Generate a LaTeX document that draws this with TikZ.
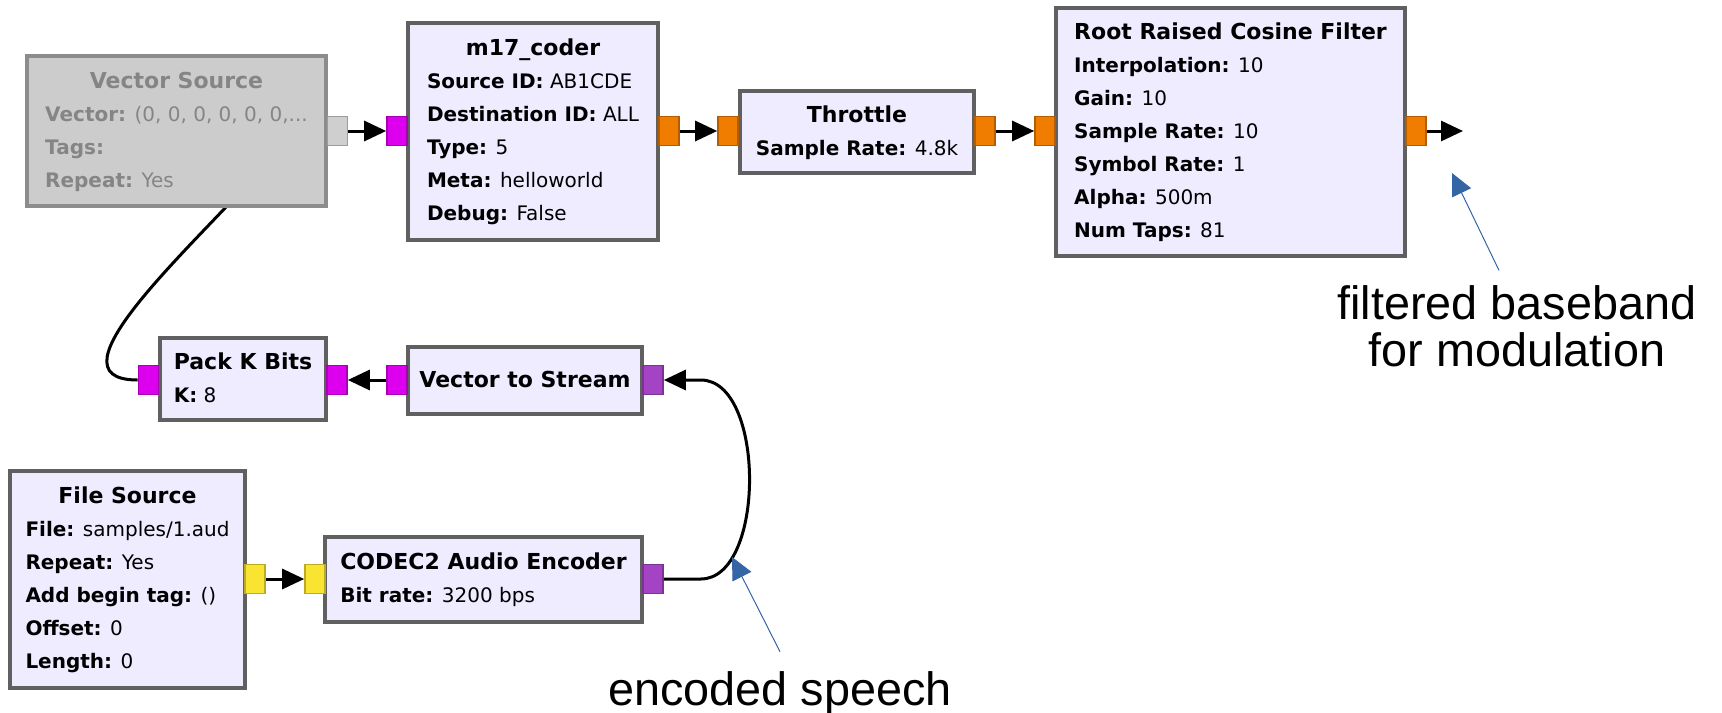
\documentclass[tikz,border=0pt]{standalone}
\usepackage{fontspec}
\setmainfont{DejaVu Sans}
\newfontfamily\notefont{Liberation Sans}
\usetikzlibrary{calc,arrows.meta,backgrounds}
\definecolor{blkfill}{HTML}{F0ECFF}
\definecolor{blkline}{HTML}{606060}
\definecolor{offfill}{HTML}{CCCCCC}
\definecolor{offline}{HTML}{8C8C8C}
\definecolor{offtext}{HTML}{858585}
\definecolor{pmag}{HTML}{DD00EE}
\definecolor{porg}{HTML}{F07C00}
\definecolor{pyel}{HTML}{FAE432}
\definecolor{ppur}{HTML}{A444C4}
\definecolor{pgry}{HTML}{CFCFCF}
\definecolor{noteblue}{HTML}{3465A4}
\newcommand{\blkttl}[1]{\multicolumn{1}{@{}c@{}}{\fontsize{11}{16.5}\selectfont\bfseries #1}}
\newcommand{\kv}[2]{\textbf{#1:} #2}

\begin{document}
\begin{tikzpicture}[x=0.5pt,y=-0.5pt,
	every node/.style={font=\fontsize{10}{16.5}\selectfont},
	blk/.style={draw=blkline,fill=blkfill,line width=1.8pt,inner sep=0pt},
	offblk/.style={blk,draw=offline,fill=offfill,text=offtext},
	prt/.style={draw=#1!75!black,fill=#1,line width=0.8pt,minimum width=10pt,minimum height=14.5pt,inner sep=0pt},
	flow/.style={line width=1.5pt,-{Triangle[length=11pt,width=10pt]}},
	note/.style={font=\notefont\fontsize{23.4}{23.4}\selectfont,align=center,inner sep=0pt},
	ann/.style={draw=noteblue,line width=0.5pt,-{Triangle[length=11pt,width=10.5pt]}}]
					\useasboundingbox (0,0) rectangle (1722,712);
					%% blocks placed by hand
					\node[offblk,minimum width=149.5pt,minimum height=75pt] (vsrc) at (176.5,131) {\begin{tabular}{@{}l@{}}\blkttl{Vector Source}\\ \kv{Vector}{(0, 0, 0, 0, 0, 0,...}\\ \kv{Tags}{}\\ \kv{Repeat}{Yes}\end{tabular}};
					\node[blk,minimum width=125pt,minimum height=108.5pt] (m17) at (533,131.5) {\begin{tabular}{@{}l@{}}\blkttl{m17\_coder}\\ \kv{Source ID}{AB1CDE}\\ \kv{Destination ID}{ALL}\\ \kv{Type}{5}\\ \kv{Meta}{helloworld}\\ \kv{Debug}{False}\end{tabular}};
					\node[blk,minimum width=117pt,minimum height=41pt] (thr) at (857,132) {\begin{tabular}{@{}l@{}}\blkttl{Throttle}\\ \kv{Sample Rate}{4.8k}\end{tabular}};
					\node[blk,minimum width=174.5pt,minimum height=124pt] (rrc) at (1230.5,132) {\begin{tabular}{@{}l@{}}\blkttl{Root Raised Cosine Filter}\\ \kv{Interpolation}{10}\\ \kv{Gain}{10}\\ \kv{Sample Rate}{10}\\ \kv{Symbol Rate}{1}\\ \kv{Alpha}{500m}\\ \kv{Num Taps}{81}\end{tabular}};
					\node[blk,minimum width=83pt,minimum height=41pt] (pack) at (243,379) {\begin{tabular}{@{}l@{}}\blkttl{Pack K Bits}\\ \kv{K}{8}\end{tabular}};
					\node[blk,minimum width=117pt,minimum height=33.5pt] (v2s) at (525,380.5) {\begin{tabular}{@{}l@{}}\blkttl{Vector to Stream}\end{tabular}};
					\node[blk,minimum width=117.5pt,minimum height=108.5pt] (fsrc) at (127.5,579.5) {\begin{tabular}{@{}l@{}}\blkttl{File Source}\\ \kv{File}{samples/1.aud}\\ \kv{Repeat}{Yes}\\ \kv{Add begin tag}{()}\\ \kv{Offset}{0}\\ \kv{Length}{0}\end{tabular}};
					\node[blk,minimum width=158.5pt,minimum height=42.5pt] (cdc) at (483.5,579.5) {\begin{tabular}{@{}l@{}}\blkttl{CODEC2 Audio Encoder}\\ \kv{Bit rate}{3200 bps}\end{tabular}};
					%% ports drawn with a loop
					\foreach \nm/\px/\py/\cl in {vso/337.5/131/pgry, m17i/397/131/pmag, m17o/669/131/porg, thri/728/131/porg, thro/985/131/porg, rrci/1045/131/porg, rrco/1416/131/porg, pkl/148.5/380/pmag, pkr/337/380/pmag, v2sl/397/380/pmag, v2sr/653/380/ppur, fso/255/579/pyel, cdci/315/579/pyel, cdco/653/579/ppur}{
						\node[prt=\cl] (\nm) at (\px,\py) {};
						}
					\coordinate (outend) at (1463,131);
					\coordinate (hid) at (260,170);
					%% straight connections
					\draw[flow] (vso.east) -- (m17i.west);
					\draw[flow] (m17o.east) -- (thri.west);
					\draw[flow] (thro.east) -- (rrci.west);
					\draw[flow] (rrco.east) -- (outend);
					\draw[flow] (v2sl.west) -- (pkr.east);
					\draw[flow] (fso.east) -- (cdci.west);
					%% curved connections
					\draw[flow] (cdco.east) -- ++(37,0) .. controls +(65,0) and +(65,0) .. ($(v2sr.east)+(37,0)$) -- (v2sr.east);
					\begin{pgfonlayer}{background}
					\draw[line width=1.5pt] (pkl.west) .. controls (40,380) and (200,240) .. (hid);
					\end{pgfonlayer}
					%% notes
					\node[note,anchor=base] (enc) at (780,705) {encoded speech};
					\node[note,anchor=base] (fb) at (1517,366.5) {filtered baseband\\for modulation};
					\coordinate (encpt) at (732,557);
					\coordinate (fbpt) at (1452,173);
					\draw[ann] ($(enc.north)+(0,-19)$) -- (encpt);
					\draw[ann] ($(fb.north)+(-18,-15)$) -- (fbpt);
					\end{tikzpicture}
\end{document}
